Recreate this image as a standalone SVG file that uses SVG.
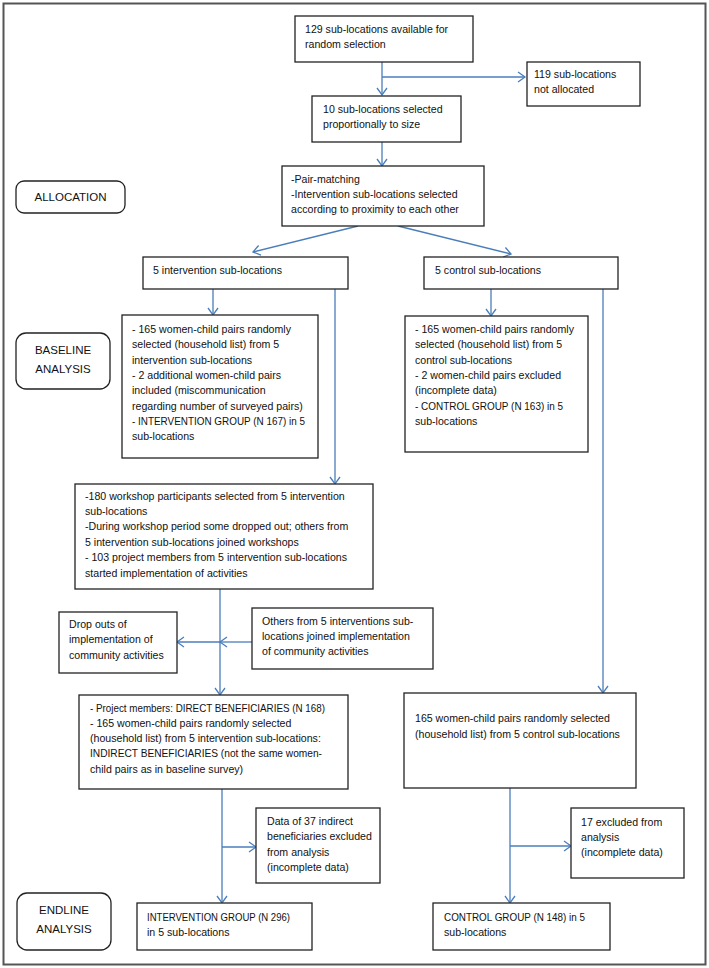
<svg xmlns="http://www.w3.org/2000/svg" width="709" height="968" viewBox="0 0 709 968">
<style>
.box{fill:#fff;stroke:#222;stroke-width:1.3}
.lab{fill:#fff;stroke:#222;stroke-width:1.3}
text{font-family:"Liberation Sans",Arial,sans-serif;font-size:10.6px;fill:#111}
.lt{font-size:11.5px;text-anchor:middle}
.c{fill:none;stroke:#4a7ebb;stroke-width:1.3}
.ca{fill:none;stroke:#4a7ebb;stroke-width:1.3;marker-end:url(#ah)}
</style>
<defs>
<marker id="ah" markerUnits="userSpaceOnUse" viewBox="-1 -6 10 12" markerWidth="10" markerHeight="12" refX="7" refY="0" orient="auto">
<path d="M0,-5 L7,0 L0,5" fill="none" stroke="#4a7ebb" stroke-width="1.3"/>
</marker>
</defs>
<rect x="3.5" y="3.5" width="702" height="961" fill="#fff" stroke="#555" stroke-width="2"/>

<g id="connectors">
<path class="ca" d="M382,62 V95"/>
<path class="ca" d="M382,77 H525"/>
<path class="ca" d="M382,142 V166"/>
<path class="ca" d="M358,226 L253,252"/>
<path class="ca" d="M398,226 L511,254"/>
<path class="ca" d="M213,289 V315"/>
<path class="ca" d="M335,289 V484"/>
<path class="ca" d="M491,289 V316"/>
<path class="ca" d="M603,289 V693"/>
<path class="ca" d="M220,589 V695"/>
<path class="ca" d="M220,642 H177"/>
<path class="ca" d="M252,642 H220"/>
<path class="ca" d="M222,789 V903"/>
<path class="ca" d="M222,847 H256"/>
<path class="ca" d="M510,788 V903"/>
<path class="ca" d="M510,846 H571"/>
</g>

<g id="label-allocation">
<rect class="lab" x="16" y="181" width="109" height="32" rx="8"/>
<text class="lt" x="70.5" y="201">ALLOCATION</text>
</g>
<g id="label-baseline">
<rect class="lab" x="16" y="333" width="94" height="56" rx="10"/>
<text class="lt" x="63" y="354">BASELINE</text>
<text class="lt" x="63" y="373">ANALYSIS</text>
</g>
<g id="label-endline">
<rect class="lab" x="17" y="893" width="94" height="57" rx="10"/>
<text class="lt" x="64" y="914">ENDLINE</text>
<text class="lt" x="64" y="933">ANALYSIS</text>
</g>

<g id="n-available">
<rect class="box" x="295" y="16" width="178" height="46"/>
<text x="305" y="33">129 sub-locations available for</text>
<text x="305" y="48">random selection</text>
</g>
<g id="n-notallocated">
<rect class="box" x="527" y="62" width="113" height="44"/>
<text x="534" y="78">119 sub-locations</text>
<text x="534" y="93">not allocated</text>
</g>
<g id="n-selected">
<rect class="box" x="312" y="96" width="149" height="46"/>
<text x="323" y="113">10 sub-locations selected</text>
<text x="323" y="128">proportionally to size</text>
</g>
<g id="n-pairmatching">
<rect class="box" x="282" y="166" width="202" height="60"/>
<text x="291" y="183">-Pair-matching</text>
<text x="291" y="198">-Intervention sub-locations selected</text>
<text x="291" y="213">according to proximity to each other</text>
</g>
<g id="n-intervention">
<rect class="box" x="143" y="257" width="205" height="32"/>
<text x="153" y="274">5 intervention sub-locations</text>
</g>
<g id="n-control">
<rect class="box" x="424" y="257" width="194" height="32"/>
<text x="435" y="274">5 control sub-locations</text>
</g>
<g id="n-baseline-int">
<rect class="box" x="122" y="315" width="196" height="143"/>
<text x="132" y="333">- 165 women-child pairs randomly</text>
<text x="132" y="348.3">selected (household list) from 5</text>
<text x="132" y="363.6">intervention sub-locations</text>
<text x="132" y="378.9">- 2 additional women-child pairs</text>
<text x="132" y="394.2">included (miscommunication</text>
<text x="132" y="409.5">regarding number of surveyed pairs)</text>
<text x="132" y="424.8" textLength="173" lengthAdjust="spacingAndGlyphs">- INTERVENTION GROUP (N 167) in 5</text>
<text x="132" y="440.1">sub-locations</text>
</g>
<g id="n-baseline-ctrl">
<rect class="box" x="405" y="316" width="183" height="136"/>
<text x="415" y="333">- 165 women-child pairs randomly</text>
<text x="415" y="348.3">selected (household list) from 5</text>
<text x="415" y="363.6">control sub-locations</text>
<text x="415" y="378.9">- 2 women-child pairs excluded</text>
<text x="415" y="394.2">(incomplete data)</text>
<text x="415" y="409.5" textLength="148" lengthAdjust="spacingAndGlyphs">- CONTROL GROUP (N 163) in 5</text>
<text x="415" y="424.8">sub-locations</text>
</g>
<g id="n-workshop">
<rect class="box" x="75" y="484" width="298" height="105"/>
<text x="85" y="499.5">-180 workshop participants selected from 5 intervention</text>
<text x="85" y="514.9">sub-locations</text>
<text x="85" y="530.3">-During workshop period some dropped out; others from</text>
<text x="85" y="545.7">5 intervention sub-locations joined workshops</text>
<text x="85" y="561.1">- 103 project members from 5 intervention sub-locations</text>
<text x="85" y="576.5">started implementation of activities</text>
</g>
<g id="n-dropouts">
<rect class="box" x="59" y="612" width="118" height="61"/>
<text x="69" y="627.5">Drop outs of</text>
<text x="69" y="643">implementation of</text>
<text x="69" y="658.5">community activities</text>
</g>
<g id="n-others">
<rect class="box" x="252" y="608" width="181" height="61"/>
<text x="262" y="624.5">Others from 5 interventions sub-</text>
<text x="262" y="639.5">locations joined implementation</text>
<text x="262" y="654.5">of community activities</text>
</g>
<g id="n-endline-int">
<rect class="box" x="79" y="695" width="269" height="94"/>
<text x="90" y="711.5" textLength="235" lengthAdjust="spacingAndGlyphs">- Project members: DIRECT BENEFICIARIES (N 168)</text>
<text x="90" y="726.8">- 165 women-child pairs randomly selected</text>
<text x="90" y="742.1">(household list) from 5 intervention sub-locations:</text>
<text x="90" y="757.4" textLength="232" lengthAdjust="spacingAndGlyphs">INDIRECT BENEFICIARIES (not the same women-</text>
<text x="90" y="772.7">child pairs as in baseline survey)</text>
</g>
<g id="n-endline-ctrl">
<rect class="box" x="404" y="693" width="232" height="95"/>
<text x="415" y="722">165 women-child pairs randomly selected</text>
<text x="415" y="737.5">(household list) from 5 control sub-locations</text>
</g>
<g id="n-excl-int">
<rect class="box" x="256" y="808" width="124" height="75"/>
<text x="267" y="824.5">Data of 37 indirect</text>
<text x="267" y="840">beneficiaries excluded</text>
<text x="267" y="855.5">from analysis</text>
<text x="267" y="871">(incomplete data)</text>
</g>
<g id="n-excl-ctrl">
<rect class="box" x="571" y="808" width="113" height="70"/>
<text x="581" y="825.5">17 excluded from</text>
<text x="581" y="840.5">analysis</text>
<text x="581" y="855.5">(incomplete data)</text>
</g>
<g id="n-final-int">
<rect class="box" x="137" y="903" width="175" height="47"/>
<text x="147" y="920.5" textLength="143" lengthAdjust="spacingAndGlyphs">INTERVENTION GROUP (N 296)</text>
<text x="147" y="935.5">in 5 sub-locations</text>
</g>
<g id="n-final-ctrl">
<rect class="box" x="433" y="903" width="177" height="47"/>
<text x="444" y="920.5" textLength="141" lengthAdjust="spacingAndGlyphs">CONTROL GROUP (N 148) in 5</text>
<text x="444" y="935.5">sub-locations</text>
</g>
</svg>
